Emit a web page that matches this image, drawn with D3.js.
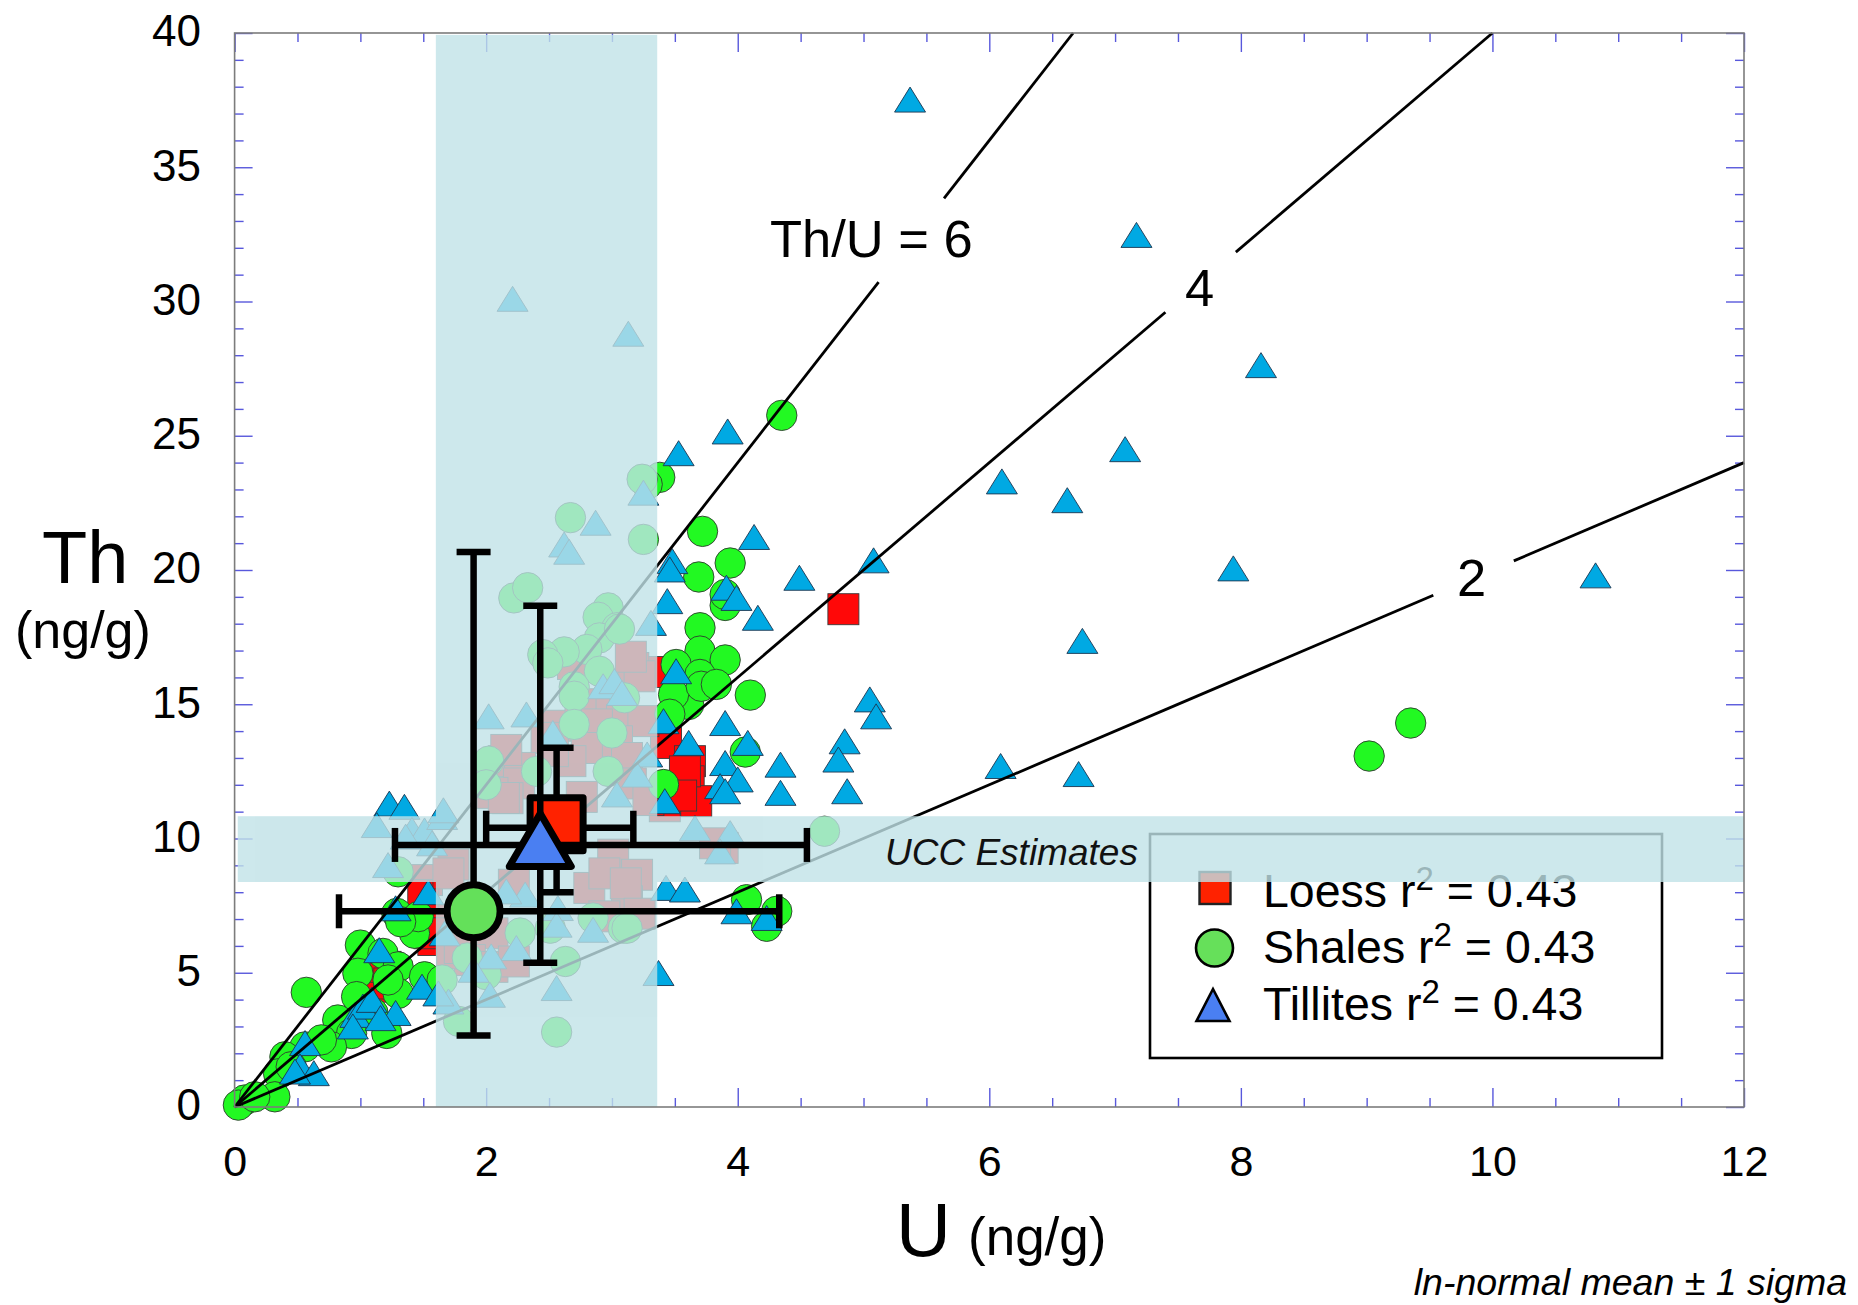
<!DOCTYPE html>
<html><head><meta charset="utf-8">
<script src="https://cdn.jsdelivr.net/npm/d3@7"></script>
<style>
body{margin:0;background:#fff}
svg{display:block;font-family:"Liberation Sans",Arial,sans-serif}
</style>
</head><body>
<svg id="chart" width="1858" height="1305"></svg>
<script>
// ---------------- data ----------------
const xTicks = [0, 2, 4, 6, 8, 10, 12];
const yTicks = [0, 5, 10, 15, 20, 25, 30, 35, 40];

// Loess samples [U, Th] (ng/g)
const loess = [
  [4.84,18.54],[3.38,16.2],[3.43,13.56],[3.62,12.88],[3.61,12.13],[3.67,11.39],[3.49,11.88],[3.42,11.2],[3.58,12.5],[3.55,11.6],
  [1.53,8.45],[1.58,6.96],[1.58,6.22],[1.09,4.48],[1.2,5.22],[1.5,7.9],[1.55,6.47],[1.23,4.6],
  [3.17,16.35],[3.22,16.04],[3.15,16.77],[2.69,16.5],[2.87,15.0],[3.08,14.4],[2.55,14.2],[2.75,14.74],[2.88,14.25],[3.25,14.37],
  [2.48,13.75],[3.04,13.62],[2.80,13.37],[2.67,12.88],[3.12,13.0],[2.14,12.88],[2.27,12.63],[2.53,13.25],[2.16,13.3],[2.26,12.05],
  [2.05,11.7],[2.17,11.5],[3.15,12.05],[3.29,11.43],[2.76,11.55],[2.14,11.51],
  [3.01,9.4],[3.20,8.65],[2.82,8.16],[3.12,7.66],[2.22,8.28],[1.74,9.03],[1.70,8.7],[2.94,8.7],[2.94,7.1],[3.11,8.33],[3.22,7.2],
  [2.05,6.47],[1.87,5.47],[1.73,5.72],[2.05,5.22],[1.79,5.92],[2.22,5.42],[3.88,9.65],[3.82,9.82]
];
// Shales samples [U, Th]
const shales = [
  [4.35,25.76],[3.38,23.45],[3.72,21.44],[3.94,20.26],[3.69,19.74],[3.90,18.68],[3.90,19.09],[3.70,17.85],[3.70,16.98],[3.90,16.65],
  [3.51,16.48],[3.70,16.11],[4.10,15.34],[3.61,14.99],[3.49,15.36],[3.71,15.67],[3.83,15.74],[3.46,14.63],[4.06,13.22],[3.41,12.01],
  [4.07,7.72],[4.31,7.29],[4.23,6.73],[9.02,13.07],[9.35,14.3],
  [0.57,4.27],[1.0,6.03],[0.98,4.98],[0.97,4.11],[1.18,5.72],[1.30,5.22],[1.30,4.23],[1.22,4.73],[1.43,6.47],[1.29,7.21],[1.46,7.09],
  [1.30,8.76],[0.82,3.24],[0.93,2.74],[1.21,2.74],[0.77,2.24],[0.56,2.24],[0.40,1.87],[0.35,1.24],[0.32,0.38],[0.08,0.26],[0.03,0.07],
  [0.16,0.38],[0.69,2.5],[1.51,4.85],[1.1,3.5],[0.45,1.5],[1.32,6.9],
  [2.67,21.95],[3.25,21.14],[3.28,23.19],[3.24,23.38],[2.22,18.96],[2.33,19.34],[2.97,18.59],[2.89,18.24],[3.04,17.85],[2.90,17.47],
  [2.80,17.04],[2.62,16.95],[2.45,16.85],[2.49,16.54],[2.90,16.23],[2.70,15.65],[2.70,15.30],[2.70,14.25],[3.00,13.93],[3.10,15.24],
  [2.02,12.88],[2.40,12.5],[2.97,12.5],[2.0,12.0],[2.85,7.04],[3.09,6.66],[2.27,6.48],[2.63,5.42],[2.56,2.79],[1.78,3.19],[2.0,4.93],
  [1.85,5.55],[2.51,6.66],[4.69,10.27],[3.12,6.66],[3.06,17.8],[1.65,4.73]
];
// Tillites samples [U, Th]
const tillites = [
  [5.37,37.52],[7.17,32.48],[8.16,27.63],[7.08,24.5],[6.10,23.3],[6.62,22.6],[7.94,20.06],[10.82,19.8],[6.74,17.36],[6.09,12.7],[6.71,12.4],
  [3.92,25.16],[3.53,24.35],[4.13,21.23],[3.48,20.33],[3.46,20.02],[4.49,19.71],[5.08,20.36],[3.91,19.34],[3.99,18.96],[3.44,18.84],
  [4.16,18.22],[3.51,16.23],[3.41,14.37],[3.90,14.3],[4.08,13.56],[3.61,13.56],[3.90,12.81],[4.0,12.2],[3.86,11.95],[3.90,11.76],
  [4.34,12.75],[4.34,11.70],[4.85,13.62],[4.80,12.94],[4.87,11.76],[5.05,15.18],[5.10,14.55],[3.42,11.39],[3.43,8.16],[3.58,8.1],
  [3.99,7.29],[4.23,7.04],[3.37,4.99],
  [1.23,11.3],[1.35,11.18],[1.28,7.4],[1.54,8.0],[1.15,5.84],[1.49,4.48],[0.96,3.43],[1.02,3.74],[1.09,3.99],[1.28,3.5],[1.16,3.31],
  [0.94,3.0],[0.56,2.38],[0.52,1.51],[0.63,1.26],[0.48,1.32],
  [3.25,22.88],[3.31,18.03],[3.66,10.39],[3.94,10.2],[3.86,9.52],[2.87,21.76],[2.62,20.95],[2.66,20.68],[2.02,14.55],[2.32,14.62],
  [2.53,13.93],[2.93,15.67],[3.02,15.86],[3.08,15.42],[3.28,13.13],[3.20,12.38],[3.04,11.64],[2.31,7.91],[2.57,7.41],[2.56,6.79],
  [2.85,6.6],[2.24,5.92],[2.04,5.61],[1.90,5.11],[1.70,3.93],[2.03,4.18],[2.56,4.43],[2.16,8.03],[1.13,10.5],[1.22,9.01],[1.41,10.32],
  [1.51,10.3],[1.65,10.8],[1.57,9.82],[1.36,10.07],[2.21,30.1],[3.13,28.8],[1.66,11.05],[1.62,4.23],[1.67,6.47]
];

// ln-normal means ± 1 sigma
const meanNames = ["Loess", "Shales", "Tillites"];
const meanU   = [2.56, 1.90, 2.43];
const meanTh  = [10.4, 7.29, 9.76];
const uLow    = [2.00, 0.83, 1.275];
const uHigh   = [3.17, 4.33, 4.55];
const thLow   = [8.00, 2.66, 5.37];
const thHigh  = [13.38, 20.67, 18.67];

// Th/U reference lines and the U ranges where their labels break them
const ratios = [6, 4, 2];
const ratioLabels = ["Th/U = 6", "4", "2"];
const ratioGapU = [[5.12, 5.64], [7.40, 7.96], [9.53, 10.17]];

// UCC estimate bands
const uccU = [1.60, 3.36];
const uccTh = [8.38, 10.83];

const legendNames = ["Loess", "Shales", "Tillites"];
const legendR2 = ["0.43", "0.43", "0.43"];

// ---------------- drawing ----------------
const svg = d3.select("#chart");
const FONT = '"Liberation Sans", Arial, sans-serif';
const x = d3.scaleLinear().domain([0, 12]).range([234.6, 1744]);
const y = d3.scaleLinear().domain([0, 40]).range([1107, 33]);

// ticks (all four sides, inward)
const TICK = "#5858dc";
function styleAxis(g) {
  g.attr("font-family", FONT);
  g.select(".domain").remove();
  g.selectAll(".tick line").attr("stroke", TICK).attr("stroke-width", 1.4);
}
const axes = svg.append("g");
const xMinor = d3.range(0, 12.001, 0.5).filter(v => v % 2 !== 0);
const yMinor = d3.range(0, 40.001, 1).filter(v => v % 5 !== 0);

axes.append("g").attr("transform", `translate(0,${y(0)})`)
  .call(d3.axisBottom(x).tickValues(xTicks).tickSizeInner(-19).tickSizeOuter(0).tickFormat(d3.format("d")))
  .call(styleAxis)
  .call(g => g.selectAll("text").attr("y", 69).attr("dy", null).attr("font-size", 43).attr("fill", "#000"));
axes.append("g").attr("transform", `translate(0,${y(0)})`)
  .call(d3.axisBottom(x).tickValues(xMinor).tickSizeInner(-9).tickSizeOuter(0).tickFormat(""))
  .call(styleAxis);
axes.append("g").attr("transform", `translate(0,${y(40)})`)
  .call(d3.axisTop(x).tickValues(xTicks).tickSizeInner(-19).tickSizeOuter(0).tickFormat(""))
  .call(styleAxis);
axes.append("g").attr("transform", `translate(0,${y(40)})`)
  .call(d3.axisTop(x).tickValues(xMinor).tickSizeInner(-9).tickSizeOuter(0).tickFormat(""))
  .call(styleAxis);
axes.append("g").attr("transform", `translate(${x(0)},0)`)
  .call(d3.axisLeft(y).tickValues(yTicks).tickSizeInner(-18).tickSizeOuter(0).tickFormat(d3.format("d")))
  .call(styleAxis)
  .call(g => g.selectAll("text").attr("x", -33.6).attr("dy", "0.29em").attr("font-size", 44).attr("fill", "#000"));
axes.append("g").attr("transform", `translate(${x(0)},0)`)
  .call(d3.axisLeft(y).tickValues(yMinor).tickSizeInner(-9).tickSizeOuter(0).tickFormat(""))
  .call(styleAxis);
axes.append("g").attr("transform", `translate(${x(12)},0)`)
  .call(d3.axisRight(y).tickValues(yTicks).tickSizeInner(-18).tickSizeOuter(0).tickFormat(""))
  .call(styleAxis);
axes.append("g").attr("transform", `translate(${x(12)},0)`)
  .call(d3.axisRight(y).tickValues(yMinor).tickSizeInner(-9).tickSizeOuter(0).tickFormat(""))
  .call(styleAxis);

// data points
const tri = (w, h) => `M0,${-h / 2}L${w / 2},${h / 2}L${-w / 2},${h / 2}Z`;
const pts = svg.append("g");
pts.selectAll("rect.loess").data(loess).join("rect").attr("class", "loess")
  .attr("x", d => x(d[0]) - 15.5).attr("y", d => y(d[1]) - 15.5)
  .attr("width", 31).attr("height", 31)
  .attr("fill", "#ff0808").attr("stroke", "#3a3a3a").attr("stroke-width", 0.9);
pts.selectAll("circle.shale").data(shales).join("circle").attr("class", "shale")
  .attr("cx", d => x(d[0])).attr("cy", d => y(d[1])).attr("r", 15.2)
  .attr("fill", "#22f922").attr("stroke", "#2e3a2e").attr("stroke-width", 0.9);
pts.selectAll("path.till").data(tillites).join("path").attr("class", "till")
  .attr("transform", d => `translate(${x(d[0])},${y(d[1])})`)
  .attr("d", tri(31, 25))
  .attr("fill", "#00a9e3").attr("stroke", "#1c3550").attr("stroke-width", 0.9);

// Th/U lines
const lines = svg.append("g");
ratios.forEach((r, i) => {
  const uEnd = Math.min(12, 40 / r);
  const segs = [[0, ratioGapU[i][0]], [ratioGapU[i][1], uEnd]];
  segs.forEach(s => {
    lines.append("line")
      .attr("x1", x(s[0])).attr("y1", y(s[0] * r))
      .attr("x2", x(s[1])).attr("y2", y(s[1] * r))
      .attr("stroke", "#000").attr("stroke-width", 2.8);
  });
});
const ratioLabelPos = [[770, 257], [1185, 306], [1457, 596]];
ratioLabels.forEach((t, i) => {
  svg.append("text").attr("x", ratioLabelPos[i][0]).attr("y", ratioLabelPos[i][1])
    .attr("font-size", 52.5).attr("font-family", FONT).attr("fill", "#000").text(t);
});

// legend (under the UCC band)
const lg = svg.append("g");
lg.append("rect").attr("x", 1150).attr("y", 834).attr("width", 512).attr("height", 224)
  .attr("fill", "#fff").attr("stroke", "#000").attr("stroke-width", 2.6);
const legY = [888, 948, 1005];
lg.append("rect").attr("x", 1199.5).attr("y", legY[0] - 16).attr("width", 31).attr("height", 32)
  .attr("fill", "#ff2200").attr("stroke", "#222").attr("stroke-width", 2.4);
lg.append("circle").attr("cx", 1214.5).attr("cy", legY[1]).attr("r", 18.5)
  .attr("fill", "#66e05a").attr("stroke", "#000").attr("stroke-width", 2.6);
lg.append("path").attr("transform", `translate(1213,${legY[2]})`).attr("d", tri(33, 32))
  .attr("fill", "#4a7ff2").attr("stroke", "#000").attr("stroke-width", 2.6);
const legBase = [907, 963, 1020];
legendNames.forEach((n, i) => {
  const t = lg.append("text").attr("x", 1263).attr("y", legBase[i])
    .attr("font-size", 46.5).attr("font-family", FONT).attr("fill", "#000");
  t.append("tspan").text(n + " r");
  t.append("tspan").attr("font-size", 33).attr("dy", -17).text("2");
  t.append("tspan").attr("dy", 17).text(" = " + legendR2[i]);
});

// UCC bands overlay (union, translucent)
const band = svg.append("g").attr("opacity", 0.8);
band.append("rect").attr("x", x(uccU[0])).attr("y", y(39.93))
  .attr("width", x(uccU[1]) - x(uccU[0])).attr("height", y(0) - y(39.93)).attr("fill", "#c0e2e7");
band.append("rect").attr("x", x(0.025)).attr("y", y(uccTh[1]))
  .attr("width", x(12) - x(0.025)).attr("height", y(uccTh[0]) - y(uccTh[1])).attr("fill", "#c0e2e7");

// frame
svg.append("rect").attr("x", x(0)).attr("y", y(40)).attr("width", x(12) - x(0)).attr("height", y(0) - y(40))
  .attr("fill", "none").attr("stroke", "#7c7c7c").attr("stroke-width", 1.6);

// UCC label
svg.append("text").attr("x", 885).attr("y", 865).attr("font-size", 37).attr("font-style", "italic")
  .attr("font-family", FONT).attr("fill", "#111").text("UCC Estimates");

// means with error bars
const meanOrder = [0, 2, 1];
const CAP = 17;
const mg = svg.append("g");
meanOrder.forEach(i => {
  const g = mg.append("g");
  const cx = x(meanU[i]), cy = y(meanTh[i]);
  const bar = (x1, y1, x2, y2) => g.append("line").attr("x1", x1).attr("y1", y1).attr("x2", x2).attr("y2", y2)
    .attr("stroke", "#000").attr("stroke-width", 6.5);
  bar(x(uLow[i]), cy, x(uHigh[i]), cy);
  bar(x(uLow[i]), cy - CAP, x(uLow[i]), cy + CAP);
  bar(x(uHigh[i]), cy - CAP, x(uHigh[i]), cy + CAP);
  bar(cx, y(thLow[i]), cx, y(thHigh[i]));
  bar(cx - CAP, y(thLow[i]), cx + CAP, y(thLow[i]));
  bar(cx - CAP, y(thHigh[i]), cx + CAP, y(thHigh[i]));
  if (meanNames[i] === "Loess") {
    g.append("rect").attr("x", cx - 26.5).attr("y", cy - 30).attr("width", 53).attr("height", 53)
      .attr("fill", "#ff2200").attr("stroke", "#000").attr("stroke-width", 7).attr("stroke-linejoin", "round");
  } else if (meanNames[i] === "Shales") {
    g.append("circle").attr("cx", cx).attr("cy", cy).attr("r", 26.5)
      .attr("fill", "#64e05a").attr("stroke", "#000").attr("stroke-width", 7);
  } else {
    g.append("path").attr("transform", `translate(${cx},${cy})`)
      .attr("d", "M0,-31.5L31,21.5L-31,21.5Z")
      .attr("fill", "#4a7ff2").attr("stroke", "#000").attr("stroke-width", 7).attr("stroke-linejoin", "round");
  }
});

// axis titles
svg.append("text").attr("x", 42).attr("y", 583).attr("font-size", 74).attr("font-family", FONT).text("Th");
svg.append("text").attr("x", 15).attr("y", 648).attr("font-size", 52).attr("font-family", FONT).text("(ng/g)");
svg.append("text").attr("x", 896).attr("y", 1256).attr("font-size", 76).attr("font-family", FONT).text("U");
svg.append("text").attr("x", 968).attr("y", 1255).attr("font-size", 53).attr("font-family", FONT).text("(ng/g)");
svg.append("text").attr("x", 1847).attr("y", 1295).attr("text-anchor", "end").attr("font-size", 37.5)
  .attr("font-style", "italic").attr("font-family", FONT).text("ln-normal mean \u00b1 1 sigma");
</script>
</body></html>
